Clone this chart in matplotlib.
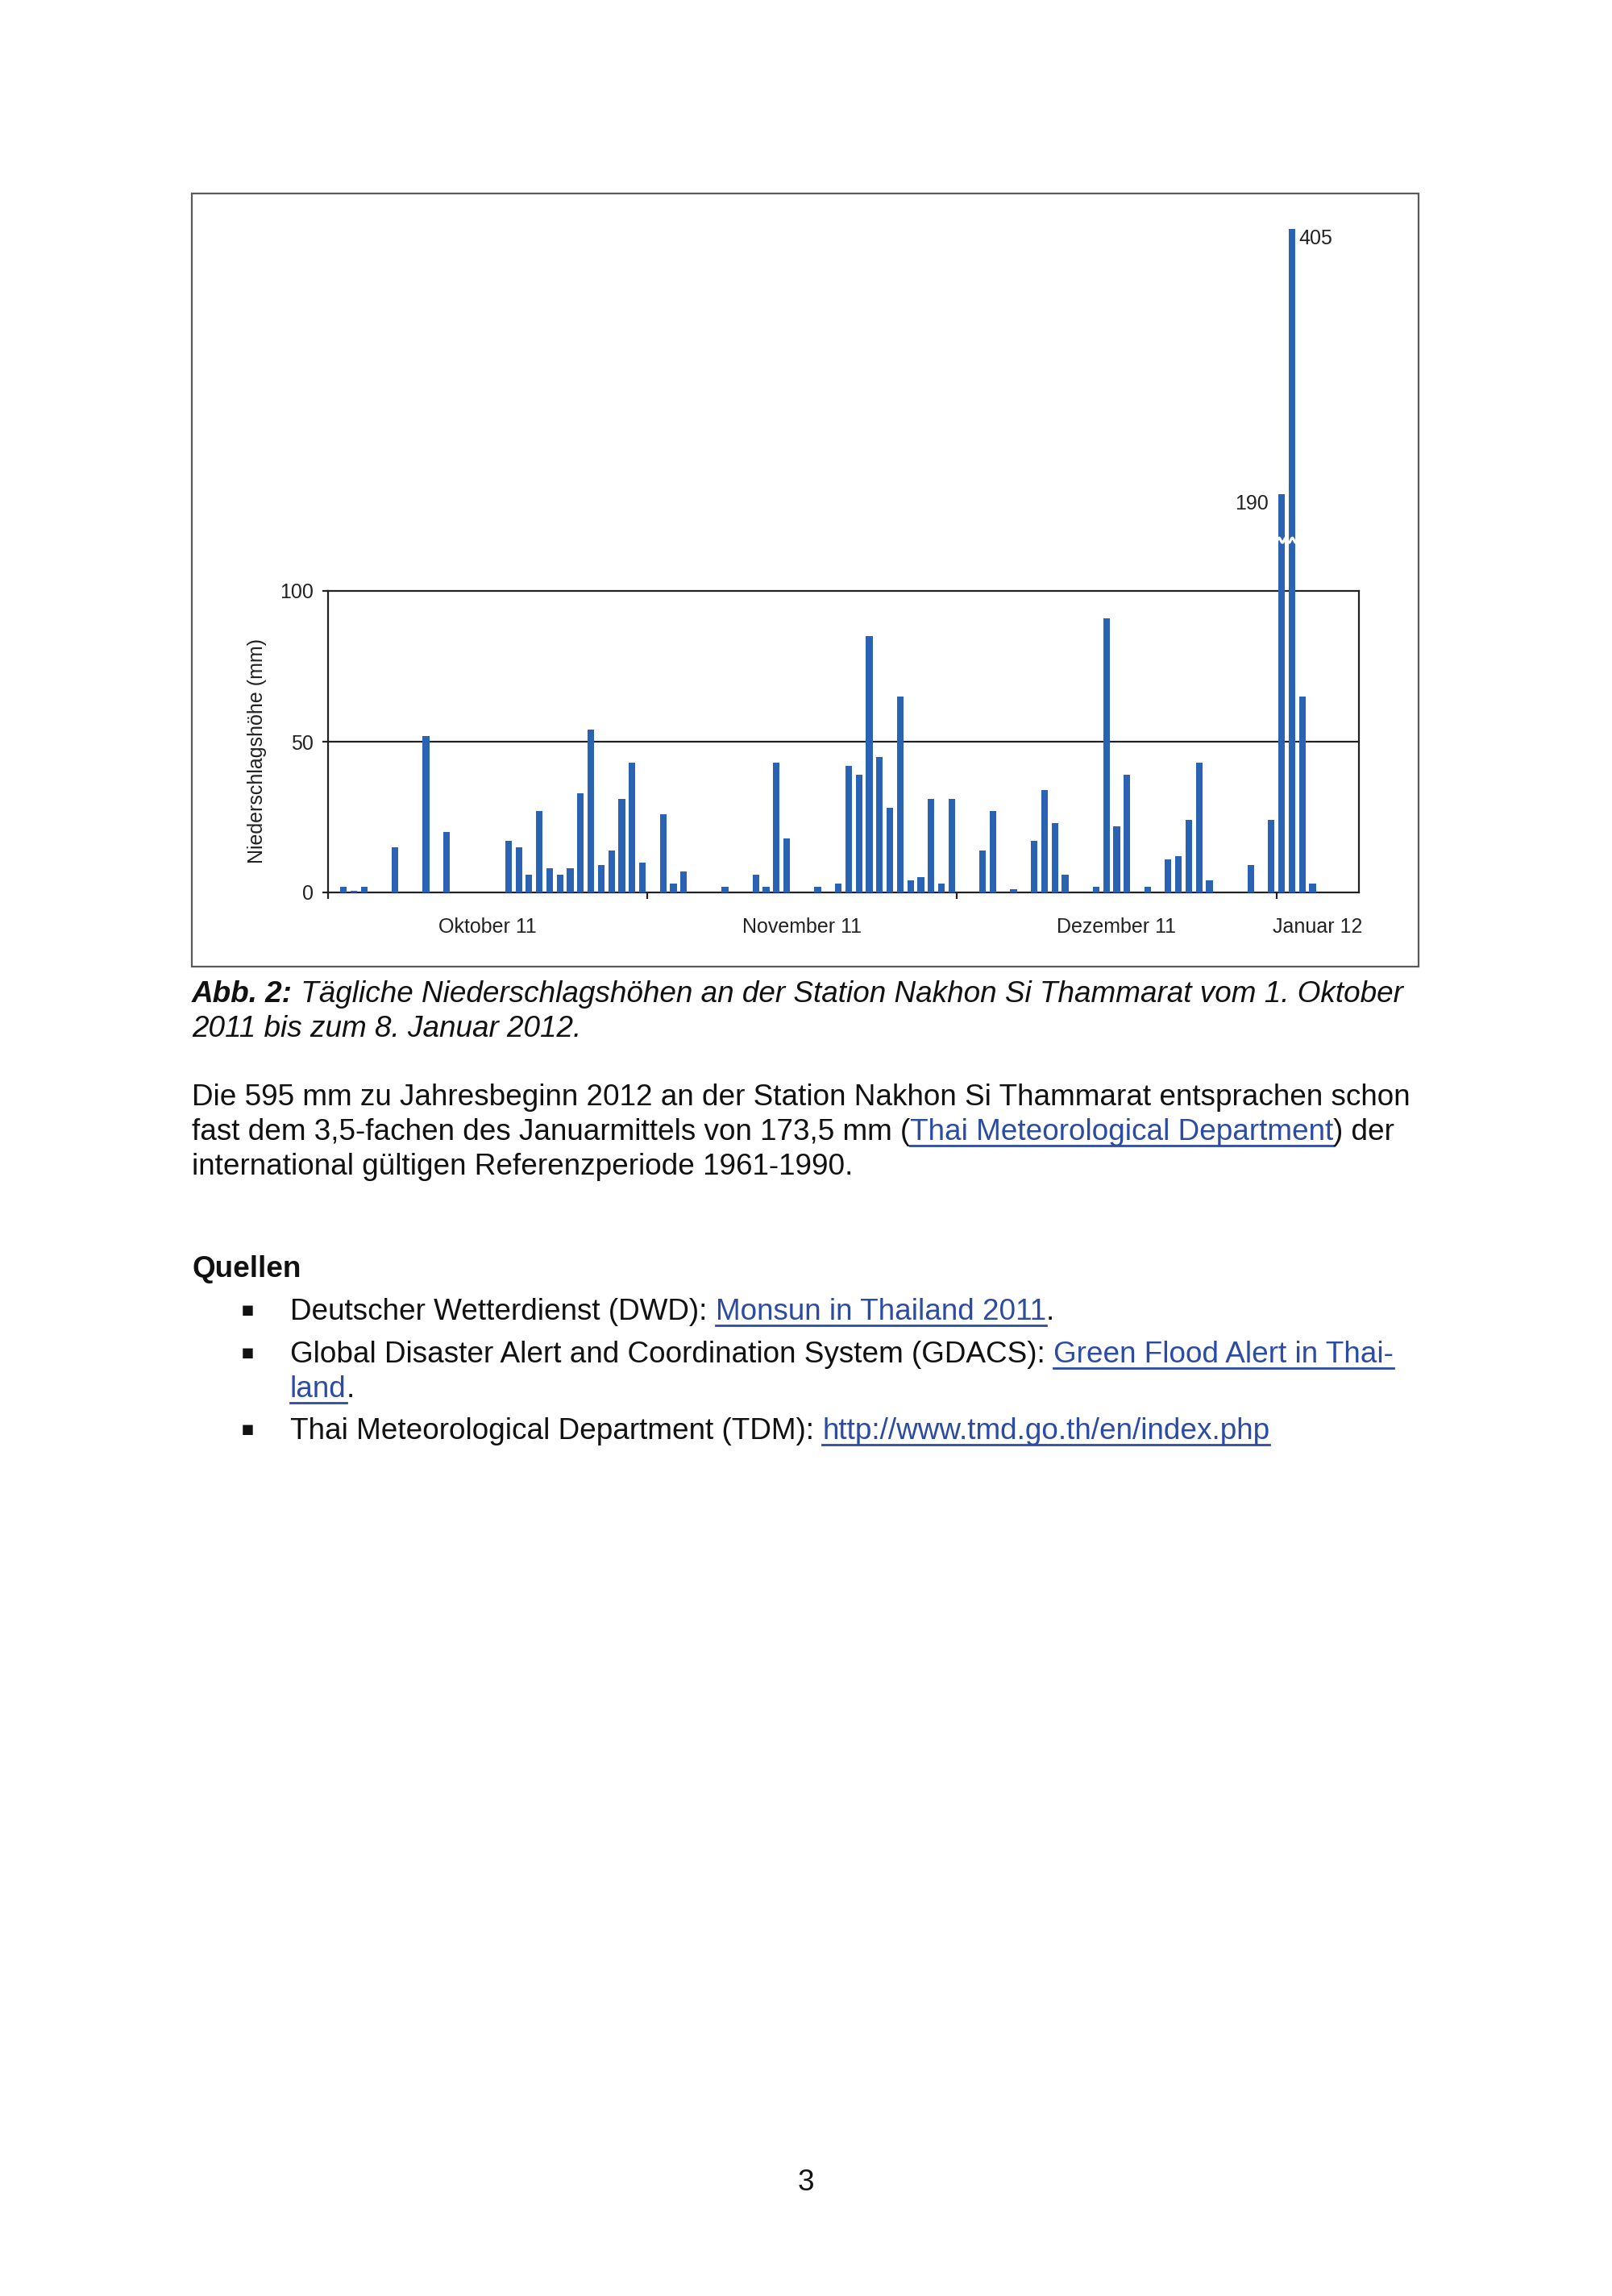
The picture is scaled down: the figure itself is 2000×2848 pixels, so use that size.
import numpy as np
import matplotlib
matplotlib.use("Agg")
import matplotlib.pyplot as plt
from matplotlib.patches import Rectangle
from matplotlib.lines import Line2D

plt.rcParams['font.family'] = ['Liberation Sans', 'DejaVu Sans']

# daily rainfall (mm), station Nakhon Si Thammarat, 1 Oct 2011 - 8 Jan 2012
oct_mm = [0, 2, 0.5, 2, 0, 0, 15, 0, 0, 52, 0, 20, 0, 0, 0, 0, 0, 17, 15, 6,
          27, 8, 6, 8, 33, 54, 9, 14, 31, 43, 10]
nov_mm = [0, 26, 3, 7, 0, 0, 0, 2, 0, 0, 6, 2, 43, 18, 0, 0, 2, 0, 3, 42,
          39, 85, 45, 28, 65, 4, 5, 31, 3, 31]
dec_mm = [0, 0, 14, 27, 0, 1, 0, 17, 34, 23, 6, 0, 0, 2, 91, 22, 39, 0, 2, 0,
          11, 12, 24, 43, 4, 0, 0, 0, 9, 0, 24]
jan_mm = [190, 405, 65, 3, 0, 0, 0, 0]
month_labels = ["Oktober 11", "November 11", "Dezember 11", "Januar 12"]
labelled = [190, 405]

rain = np.array(oct_mm + nov_mm + dec_mm + jan_mm, dtype=float)
month_len = [len(oct_mm), len(nov_mm), len(dec_mm), len(jan_mm)]
month_start = np.concatenate([[0], np.cumsum(month_len)[:-1]])
month_mid = month_start + np.array(month_len) / 2
days = np.arange(len(rain)) + 0.5

# broken y scale: linear up to the break, squeezed above it
BREAK_AT = 118
RESUME = 155.9
SQUEEZE = 0.41


def fwd(v):
    v = np.asarray(v, dtype=float)
    return np.where(v <= BREAK_AT, v,
                    np.where(v < RESUME, BREAK_AT, BREAK_AT + (v - RESUME) * SQUEEZE))


def inv(y):
    y = np.asarray(y, dtype=float)
    return np.where(y <= BREAK_AT, y, RESUME + (y - BREAK_AT) / SQUEEZE)


W, H = 2000, 2848
fig = plt.figure(figsize=(W / 200, H / 200), dpi=200)
fig.patch.set_facecolor('white')


def fx(x):
    return x / W


def fy(y):
    return 1 - y / H


BAR = '#2a63b3'
INK = '#222222'

# chart frame
fig.add_artist(Rectangle((fx(238), fy(1199)), (1760 - 238) / W, (1199 - 240) / H,
                         transform=fig.transFigure, fill=False,
                         edgecolor='#5a5a5a', lw=0.8))

ax = fig.add_axes([fx(407), fy(1107), 1279 / W, 374 / H])
ax.set_yscale('function', functions=(fwd, inv))
ax.set_xlim(0, len(rain))
ax.set_ylim(0, 100)

ax.bar(days, rain, width=0.64, color=BAR, linewidth=0, zorder=3, clip_on=False)
ax.axhline(50, color=INK, lw=0.8, zorder=2)

# break mark across the two tall bars
tall = np.where(rain > 100)[0]
wx = np.linspace(tall[0] + 0.1, tall[-1] + 0.9, 200)
wy = BREAK_AT - 1.2 + 0.8 * np.sin(2 * np.pi * (wx - wx[0]) / 0.64)
ax.plot(wx, wy, color='white', lw=1.1, zorder=4, clip_on=False)

for v in labelled:
    i = int(np.where(rain == v)[0][0])
    if v == max(labelled):
        ax.annotate(str(v), xy=(days[i] + 0.32, v), xytext=(1.5, 0),
                    textcoords='offset points', ha='left', va='top',
                    fontsize=9, color=INK, annotation_clip=False)
    else:
        ax.annotate(str(v), xy=(days[i] - 0.32, v), xytext=(-4.5, 0),
                    textcoords='offset points', ha='right', va='top',
                    fontsize=9, color=INK, annotation_clip=False)

for s in ax.spines.values():
    s.set_color(INK)
    s.set_linewidth(0.8)
    s.set_zorder(2)

ax.set_yticks([0, 50, 100])
ax.set_yticklabels(['0', '50', '100'])
ax.yaxis.set_minor_locator(matplotlib.ticker.NullLocator())
ax.tick_params(axis='y', direction='out', length=2.6, width=0.8, color=INK,
               labelsize=9, labelcolor=INK, pad=4)
ax.set_xticks(month_start)
ax.set_xticklabels([])
ax.set_xticks(month_mid, minor=True)
ax.set_xticklabels(month_labels, minor=True)
ax.tick_params(axis='x', which='major', direction='out', length=2.9, width=0.8, color=INK)
ax.tick_params(axis='x', which='minor', length=0, labelsize=9, labelcolor=INK, pad=11)
ax.set_ylabel('Niederschlagshöhe (mm)', fontsize=9, color=INK, va='center')
ax.yaxis.set_label_coords(-0.069, 0.47)

# ---- page text ----
renderer = fig.canvas.get_renderer()
BODY = 13.3
TXT = '#111111'
LINK = '#2c4ba3'


def text_width(s, **kw):
    t = fig.text(0, 0, s + 'x', **kw)
    r = fig.text(0, 0, 'x', **kw)
    w = t.get_window_extent(renderer).width - r.get_window_extent(renderer).width
    t.remove()
    r.remove()
    return w


def draw_runs(runs, x, y, size=BODY):
    for s, style in runs:
        kw = dict(fontsize=size)
        color = TXT
        if 'b' in style:
            kw['fontweight'] = 'bold'
        if 'i' in style:
            kw['fontstyle'] = 'italic'
        if 'l' in style:
            color = LINK
        fig.text(fx(x), fy(y), s, color=color, ha='left', va='baseline', **kw)
        w = text_width(s, **kw)
        if 'l' in style:
            fig.add_artist(Line2D([fx(x), fx(x + w)], [fy(y + 7), fy(y + 7)],
                                  transform=fig.transFigure, color=LINK, lw=1.0))
        x += w


draw_runs([("Abb. 2:", 'bi'),
           (" Tägliche Niederschlagshöhen an der Station Nakhon Si Thammarat vom 1. Oktober", 'i')],
          238, 1243)
draw_runs([("2011 bis zum 8. Januar 2012.", 'i')], 238, 1286)

draw_runs([("Die 595 mm zu Jahresbeginn 2012 an der Station Nakhon Si Thammarat entsprachen schon", '')],
          238, 1371)
draw_runs([("fast dem 3,5-fachen des Januarmittels von 173,5 mm (", ''),
           ("Thai Meteorological Department", 'l'), (") der", '')], 238, 1414)
draw_runs([("international gültigen Referenzperiode 1961-1990.", '')], 238, 1457)

draw_runs([("Quellen", 'b')], 238, 1584)

bullet_x, item_x = 307, 360
items = [
    (1637, [("Deutscher Wetterdienst (DWD): ", ''), ("Monsun in Thailand 2011", 'l'), (".", '')]),
    (1690, [("Global Disaster Alert and Coordination System (GDACS): ", ''),
            ("Green Flood Alert in Thai-", 'l')]),
    (1785, [("Thai Meteorological Department (TDM): ", ''),
            ("http://www.tmd.go.th/en/index.php", 'l')]),
]
for y, runs in items:
    fig.text(fx(bullet_x), fy(y - 12), '▪', fontsize=9, color=TXT,
             ha='center', va='center', family=['DejaVu Sans'])
    draw_runs(runs, item_x, y)
draw_runs([("land", 'l'), (".", '')], item_x, 1733)

fig.text(fx(1000), fy(2717), '3', fontsize=BODY, color=TXT, ha='center', va='baseline')

fig.savefig('out.png', dpi=200, facecolor='white')
